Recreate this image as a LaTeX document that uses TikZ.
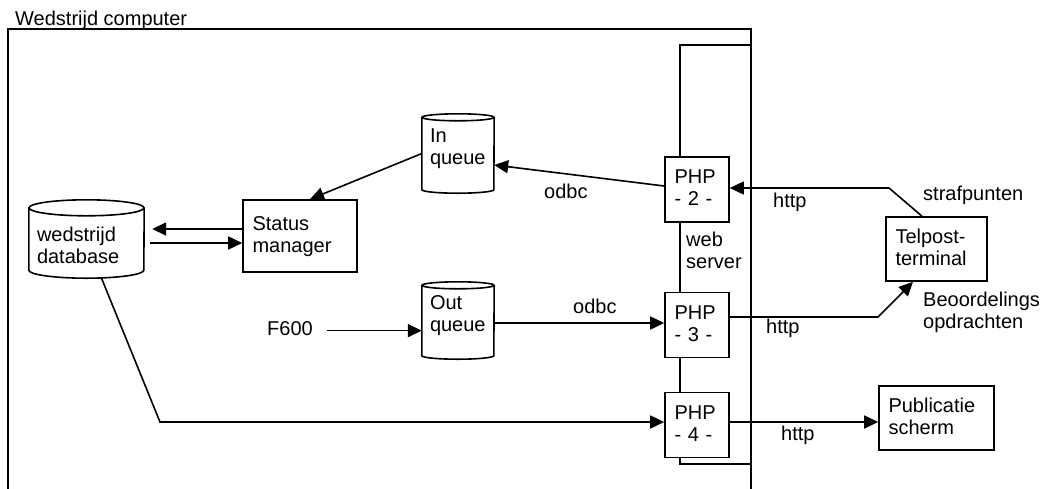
\documentclass[tikz,border=0pt]{standalone}
\usepackage{fontspec}
\setmainfont{Liberation Sans}
\usetikzlibrary{arrows.meta,calc}
\begin{document}
\begin{tikzpicture}[x=1pt,y=-1pt,
  every node/.style={font=\fontsize{20}{22}\selectfont},
  lbl/.style={inner sep=0pt, anchor=base west, align=left},
  procbox/.style={draw, fill=white, line width=1.6pt, inner xsep=9.5pt, inner ysep=0pt,
    align=left, text height=15pt, text depth=27pt},
  storage/.style={inner xsep=8pt, inner ysep=0pt, align=left, text height=15pt, text depth=37pt},
  wire/.style={line width=1.6pt},
  arr/.style={wire, -{Triangle[length=14pt,width=13pt]}},
]
\useasboundingbox (0,0) rectangle (1041,488);

% computer frame (open at the bottom)
\node[lbl] (pclbl) at (15,25) {Wedstrijd computer};
\draw[wire] (8,490) -- (8,29) -- (751,29) -- (751,490);

% web server column
\node[draw, line width=1.6pt, minimum width=71pt, minimum height=419pt, inner sep=0pt] (web) at (715.5,254.5) {};
\node[lbl] (weblbl) at (686,268) {web\\server};

% PHP handlers
\node[procbox, minimum width=64pt, minimum height=65pt, text width=45pt] (php2) at (697,189.5) {PHP\\- 2 -};
\node[procbox, minimum width=64pt, minimum height=65pt, text width=45pt] (php3) at (697,325) {PHP\\- 3 -};
\node[procbox, minimum width=64pt, minimum height=65pt, text width=45pt] (php4) at (697,425) {PHP\\- 4 -};

% processes and terminals
\node[procbox, minimum width=114pt, minimum height=72pt, text width=95pt] (status) at (300,236) {Status\\manager};
\node[procbox, minimum width=101pt, minimum height=64pt, text width=82pt] (telpost) at (936.5,249) {Telpost-\\terminal};
\node[procbox, minimum width=115pt, minimum height=64pt, text width=96pt] (pub) at (936.5,418) {Publicatie\\scherm};

% data stores
\node[storage, minimum width=72pt, minimum height=79pt, text width=56pt] (inq) at (458,153.5) {In\\queue};
\node[storage, minimum width=72pt, minimum height=77pt, text width=56pt] (outq) at (458,320.5) {Out\\queue};
\node[storage, minimum width=115pt, minimum height=78pt, text width=99pt, text depth=11pt] (db) at (86.5,239) {wedstrijd\\database};

\foreach \n/\ry/\rx in {inq/3.5/36, outq/3.5/36, db/8/57.5} {
  \draw[wire] ($(\n.north)+(0,\ry)$) ellipse [x radius=\rx pt, y radius=\ry pt];
  \draw[wire] ($(\n.north west)+(0,\ry)$) -- ($(\n.south west)+(0,-\ry)$)
    arc[start angle=180, end angle=360, x radius=\rx pt, y radius=\ry pt]
    -- ($(\n.north east)+(0,\ry)$);
}

% free labels
\node[lbl] (f600) at (267,335) {F600};
\node[lbl] (odbc1) at (544,198) {odbc};
\node[lbl] (odbc2) at (573,313) {odbc};
\node[lbl] (http1) at (773,207) {http};
\node[lbl] (http2) at (766,333) {http};
\node[lbl] (http3) at (781,440) {http};
\node[lbl] (strafp) at (923,200) {strafpunten};
\node[lbl] (beoord) at (923,328) {Beoordelings\\opdrachten};

% bend points
\coordinate (dbturn) at (160,422);
\coordinate (tpin) at (889,188);
\coordinate (tpout) at (878,317);

% connectors
\draw[arr] (inq.west) -- ([xshift=10pt]status.north);
\draw[arr] ([yshift=3.5pt]php2.west) -- ([yshift=-11.5pt]inq.east);
\draw[arr] ([yshift=7pt]status.west) -- ([xshift=8pt,yshift=10pt]db.east);
\draw[arr] ([xshift=6pt,yshift=-4pt]db.east) -- ([yshift=-7pt]status.west);
\draw[arr] ([xshift=15pt]db.south) -- (dbturn) -- (dbturn -| php4.west);
\draw[arr] ([xshift=14pt,yshift=-2.5pt]f600.east) coordinate (fstart) -- (fstart -| outq.west);
\draw[arr] ([yshift=-2.5pt]outq.east) coordinate (oqout) -- (oqout -| php3.west);
\draw[arr] ([xshift=-14.5pt]telpost.north) -- (tpin) -- (tpin -| php2.east);
\draw[arr] ([yshift=8pt]php3.east) -- (tpout) -- ([xshift=-23.5pt]telpost.south);
\draw[arr] ([yshift=3pt]php4.east) coordinate (p4out) -- (p4out -| pub.west);
\end{tikzpicture}
\end{document}
